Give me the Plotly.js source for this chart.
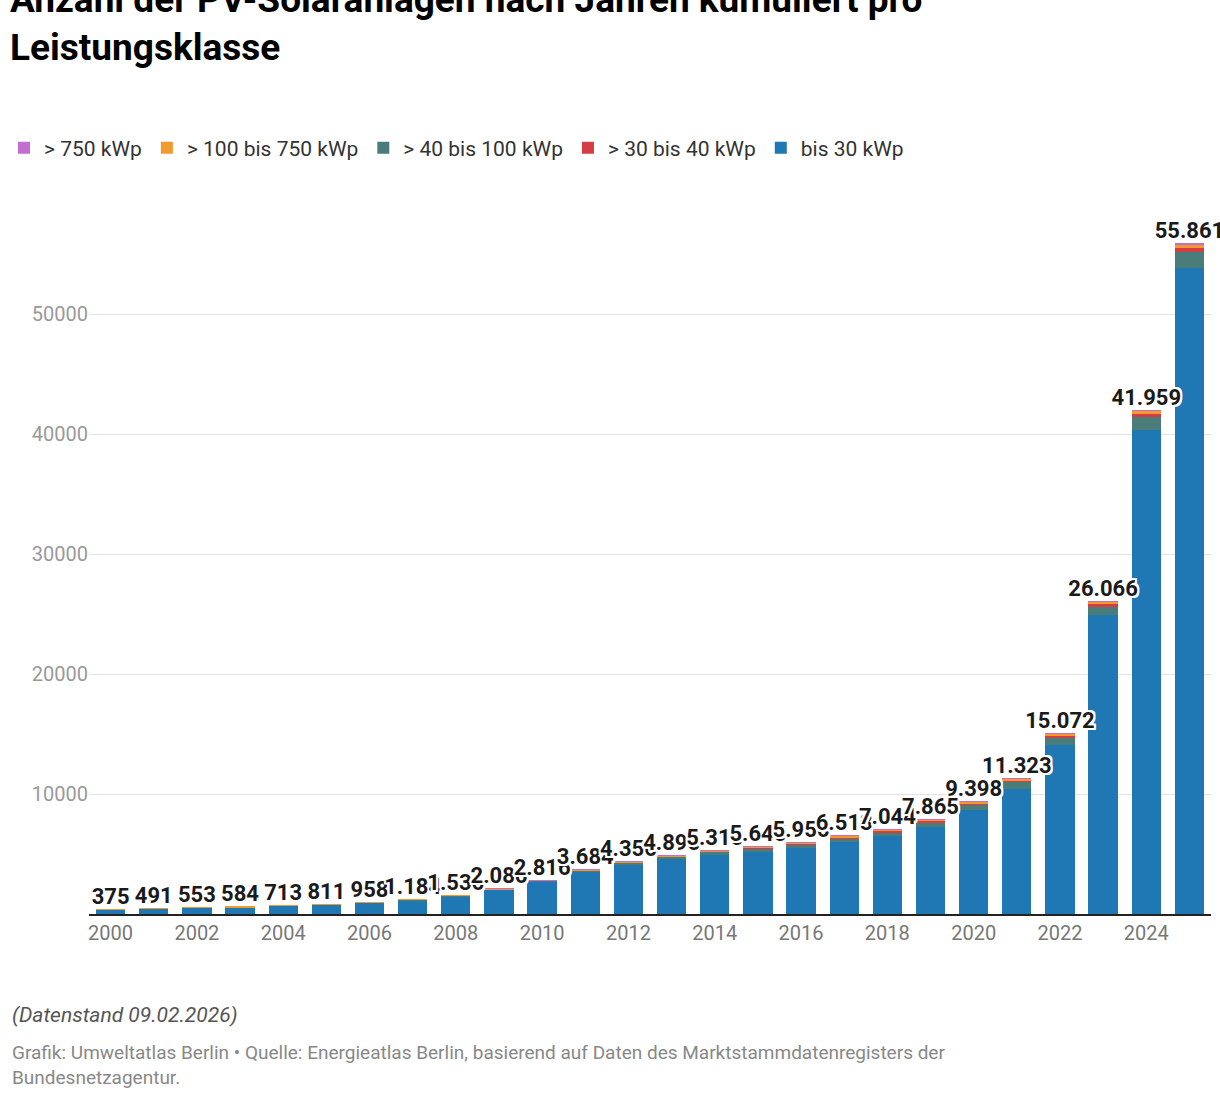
<!DOCTYPE html>
<html><head><meta charset="utf-8">
<script src="https://cdn.plot.ly/plotly-3.0.1.min.js"></script>
<style>body{margin:0;background:#fff}</style></head>
<body><div id="c" style="width:1220px;height:1102px"></div>
<script>
const years=[2000,2001,2002,2003,2004,2005,2006,2007,2008,2009,2010,2011,2012,2013,2014,2015,2016,2017,2018,2019,2020,2021,2022,2023,2024,2025];
const totals=[375,491,553,584,713,811,958,1184,1536,2086,2816,3684,4356,4895,5315,5645,5956,6513,7044,7865,9398,11323,15072,26066,41959,55861];
const bis30=[365,476,535,565,690,785,925,1140,1480,2000,2700,3500,4100,4550,4900,5200,5500,6000,6500,7250,8700,10450,14100,24900,40350,53850];
const s30_40=[0,1,1,1,2,2,3,5,6,10,15,30,40,55,70,70,80,90,100,120,140,170,190,230,280,330];
const s40_100=[8,11,13,14,16,18,23,30,40,60,80,120,160,220,270,280,290,320,330,380,400,540,600,700,1050,1320];
const s100_750=[2,3,4,4,5,6,7,9,10,15,20,30,50,60,65,85,75,90,100,100,140,145,160,210,250,330];
const s750=[0,0,0,0,0,0,0,0,0,1,1,4,6,10,10,10,11,13,14,15,18,18,22,26,29,31];
const fmt=v=>v>=1000?(Math.floor(v/1000)+"."+String(v%1000).padStart(3,"0")):String(v);
const x=years.map(String);
const mk=(name,y,color,rank)=>({type:"bar",name,x,y,marker:{color},hoverinfo:"y",legendrank:rank});
const halo="-2px -2px 0 #fff, 2px 2px 0 #fff, 2px -2px 0 #fff, -2px 2px 0 #fff, 0 2px 0 #fff, 0 -2px 0 #fff, 2px 0 0 #fff, -2px 0 0 #fff";
const data=[
 mk("bis 30 kWp",bis30,"#1f77b4",1),
 mk("> 40 bis 100 kWp",s40_100,"#4a7c7a",3),
 mk("> 30 bis 40 kWp",s30_40,"#d43d44",2),
 mk("> 100 bis 750 kWp",s100_750,"#f39a2c",4),
 mk("> 750 kWp",s750,"#c06fd1",5),
 {type:"scatter",mode:"text",x,y:totals,text:totals.map(fmt),textposition:"top center",
  textfont:{family:"Roboto",size:22,color:"#1a1a1a",weight:700,shadow:halo},
  cliponaxis:false,showlegend:false,hoverinfo:"skip"}
];
const layout={
 width:1220,height:1102,barmode:"stack",bargap:0.32,
 margin:{l:89,r:9,t:230,b:188,autoexpand:false},
 paper_bgcolor:"#fff",plot_bgcolor:"#fff",
 font:{family:"Roboto",size:20,color:"#333"},
 title:{text:"<b>Anzahl der PV-Solaranlagen nach Jahren kumuliert pro<br>Leistungsklasse</b>",x:10/1220,xanchor:"left",xref:"container",yref:"container",y:1-12/1102,yanchor:"top",font:{family:"Roboto",size:37,color:"#000"}},
 showlegend:true,
 legend:{orientation:"h",xref:"container",yref:"container",x:4/1220,xanchor:"left",y:1-148/1102,yanchor:"middle",font:{size:21,color:"#333"},itemwidth:30},
 xaxis:{type:"category",tickvals:x.filter((v,i)=>i%2==0),ticks:"",tickfont:{size:20,color:"#777"},showline:true,linecolor:"#222",linewidth:2,range:[-0.5,25.5]},
 yaxis:{range:[0,57000],tickvals:[10000,20000,30000,40000,50000],ticktext:["10000","20000","30000","40000","50000"],showgrid:true,gridcolor:"#e3e3e3",zeroline:false,tickfont:{size:20,color:"#999"}},
 annotations:[
  {text:"<i>(Datenstand 09.02.2026)</i>",xref:"paper",yref:"paper",x:-0.0705,xanchor:"left",y:-0.148,yanchor:"middle",showarrow:false,font:{size:21,color:"#555"},align:"left"},
  {text:"Grafik: Umweltatlas Berlin • Quelle: Energieatlas Berlin, basierend auf Daten des Marktstammdatenregisters der<br>Bundesnetzagentur.",xref:"paper",yref:"paper",x:-0.0705,xanchor:"left",y:-0.221,yanchor:"middle",showarrow:false,font:{size:19,color:"#888"},align:"left"}
 ]
};
Plotly.newPlot("c",data,layout,{displayModeBar:false});
</script></body></html>
